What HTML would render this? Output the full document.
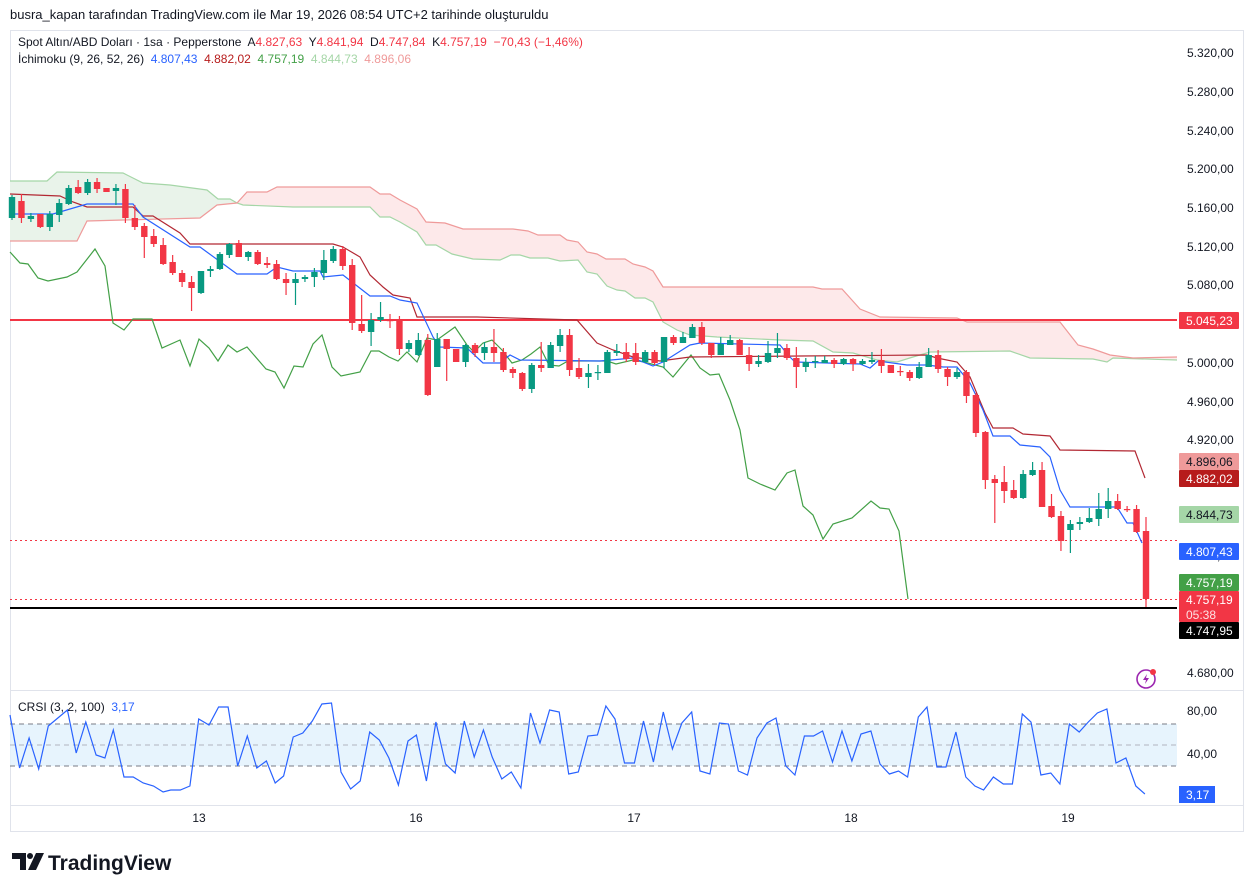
<!DOCTYPE html>
<html><head><meta charset="utf-8"><style>
html,body{margin:0;padding:0;background:#fff;width:1254px;height:893px;overflow:hidden}
svg{display:block}
text{font-family:"Liberation Sans",sans-serif;white-space:pre}
</style></head><body>
<svg id="s" width="1254" height="893" xmlns="http://www.w3.org/2000/svg" xml:space="preserve">
<rect x="10.5" y="30.5" width="1233" height="801" fill="#fff" stroke="#e0e3eb"/>
<line x1="10" y1="690.5" x2="1244" y2="690.5" stroke="#e0e3eb"/>
<line x1="10" y1="805.5" x2="1244" y2="805.5" stroke="#e0e3eb"/>
<g id="g"></g>
<text x="10" y="19" font-size="13" fill="#131722">busra_kapan tarafından TradingView.com ile Mar 19, 2026 08:54 UTC+2 tarihinde oluşturuldu</text>
<text x="18" y="46" font-size="12" fill="#131722">Spot Altın/ABD Doları · 1sa · Pepperstone  A<tspan fill="#F23645">4.827,63</tspan>  Y<tspan fill="#F23645">4.841,94</tspan>  D<tspan fill="#F23645">4.747,84</tspan>  K<tspan fill="#F23645">4.757,19  −70,43 (−1,46%)</tspan></text>
<text x="18" y="63" font-size="12" fill="#131722">İchimoku (9, 26, 52, 26)  <tspan fill="#2962FF">4.807,43</tspan>  <tspan fill="#B71C1C">4.882,02</tspan>  <tspan fill="#43A047">4.757,19</tspan>  <tspan fill="#A5D6A7">4.844,73</tspan>  <tspan fill="#EF9A9A">4.896,06</tspan></text>
<text x="18" y="711" font-size="12" fill="#131722">CRSI (3, 2, 100)  <tspan fill="#2962FF">3,17</tspan></text>
<g font-size="12" fill="#131722" text-anchor="middle">
<text x="199" y="822">13</text><text x="416" y="822">16</text><text x="634" y="822">17</text><text x="851" y="822">18</text><text x="1068" y="822">19</text>
</g>
<g transform="translate(12,853)"><path d="M0 0h14v17h-6v-11h-8z" fill="#131722"/><circle cx="18" cy="3" r="3" fill="#131722"/><path d="M24 0h8l-8 17h-8z" fill="#131722"/></g>
<text x="48" y="870" font-size="21" font-weight="bold" fill="#131722">TradingView</text>
<g transform="translate(1146,679)"><circle r="9" fill="none" stroke="#9c27b0" stroke-width="1.6"/><path d="M1 -5 L-3 1 L0 1 L-1 5 L3 -1 L0 -1 Z" fill="#9c27b0"/><circle cx="7" cy="-7" r="3" fill="#F23645"/></g>
</svg>
<script>
var g=document.getElementById('g'),h='';
function pl(p,c,w,extra){return '<polyline fill="none" stroke="'+c+'" stroke-width="'+(w||1)+'" '+(extra||'')+' points="'+p.map(function(a){return a[0]+','+a[1]}).join(' ')+'"/>';}
var A=[[10,181],[47,181],[57,172],[123,173],[143,183],[170,185],[207,190],[218,199],[230,199],[237,203],[243,205],[293,207],[370,207],[380,217],[390,217],[400,222],[417,232],[426,245],[436,245],[452,254],[473,259],[500,260],[511,255],[520,255],[530,258],[548,258],[560,261],[578,260],[587,272],[597,274],[607,286],[617,290],[625,291],[635,298],[645,298],[653,302],[663,322],[677,330],[690,335],[717,337],[780,340],[813,341],[833,352],[853,353],[877,360],[897,362],[913,357],[930,352],[1010,351],[1030,358],[1093,359],[1107,362],[1113,358],[1177,360]];
var B=[[10,241],[77,241],[87,221],[200,218],[217,205],[237,203],[247,192],[267,192],[277,187],[370,187],[380,194],[390,194],[400,200],[417,209],[426,222],[445,223],[463,229],[513,229],[528,231],[538,235],[560,235],[567,240],[578,242],[587,252],[597,254],[606,259],[625,259],[633,264],[645,267],[653,271],[663,287],[813,287],[822,289],[842,289],[860,309],[880,317],[957,318],[967,322],[1060,322],[1078,345],[1093,349],[1110,355],[1133,358],[1177,357]];
function poly(p,f){return '<polygon fill="'+f+'" points="'+p.map(function(a){return a[0]+','+a[1]}).join(' ')+'"/>';}
var gA=A.filter(function(a){return a[0]<=237}),gB=B.filter(function(a){return a[0]<=237}).reverse();
h+=poly(gA.concat(gB),'#e9f3ea');
var rB=B.filter(function(a){return a[0]>=237}),rA=A.filter(function(a){return a[0]>=237}).reverse();
h+=poly(rB.concat(rA),'#fde9ea');
h+=pl(A,'#a5d6a7',1.2)+pl(B,'#ef9a9a',1.2);
h+='<line x1="10" y1="320" x2="1177" y2="320" stroke="#F23645" stroke-width="2"/>';
h+='<line x1="10" y1="540.5" x2="1177" y2="540.5" stroke="#F23645" stroke-width="1" stroke-dasharray="2,3"/>';
h+='<line x1="10" y1="599.5" x2="1177" y2="599.5" stroke="#F23645" stroke-width="1" stroke-dasharray="2,3"/>';
h+='<line x1="10" y1="608" x2="1177" y2="608" stroke="#000" stroke-width="2"/>';
var LAG=[[10,252],[20,263],[28,264],[38,278],[48,281],[67,277],[77,272],[95,249],[105,266],[113,323],[124,330],[133,319],[152,319],[162,348],[180,340],[190,366],[199,339],[209,348],[218,361],[228,345],[237,352],[247,347],[266,369],[275,372],[284,388],[294,366],[303,367],[313,344],[322,335],[332,367],[341,376],[360,372],[371,351],[379,351],[389,357],[398,361],[407,352],[417,362],[427,338],[437,340],[455,327],[467,345],[474,352],[483,343],[492,340],[502,350],[512,363],[522,360],[531,354],[540,347],[549,365],[559,366],[568,361],[578,361],[607,361],[616,364],[633,360],[644,362],[663,367],[673,377],[691,355],[700,368],[710,375],[719,374],[730,400],[740,430],[748,478],[760,484],[775,490],[787,473],[795,470],[803,506],[813,515],[823,539],[833,524],[852,518],[871,501],[880,508],[889,509],[899,531],[908,599]];
h+=pl(LAG,'#43A047',1.2);
var BASE=[[10,194],[60,196],[73,202],[87,207],[133,207],[143,216],[153,216],[180,233],[190,244],[333,244],[343,247],[360,257],[370,275],[383,287],[393,295],[410,298],[417,317],[477,317],[577,320],[597,343],[613,350],[633,357],[660,361],[690,357],[800,356],[927,355],[937,358],[957,362],[970,377],[985,413],[993,428],[1013,428],[1023,434],[1050,436],[1060,450],[1135,451],[1145,478]];
var CONV=[[10,214],[53,214],[87,204],[133,204],[143,217],[190,247],[200,247],[237,274],[267,274],[277,267],[293,271],[320,271],[323,277],[343,275],[370,296],[390,296],[400,300],[417,303],[433,337],[440,347],[467,348],[483,363],[500,363],[510,355],[520,360],[600,361],[633,358],[653,366],[663,362],[690,345],[700,343],[780,345],[788,355],[795,362],[860,364],[870,368],[878,361],[907,365],[927,365],[943,367],[957,367],[970,383],[983,410],[993,436],[1010,436],[1020,445],[1040,447],[1050,457],[1060,490],[1070,507],[1117,507],[1127,523],[1133,523],[1142,543]];
h+=pl(BASE,'#B22833',1.2)+pl(CONV,'#2962FF',1.2);
var C=[
['g',197,218,195,220],['r',201,218,194,223],['g',216,219,213,222],['r',214,227,214,228],['g',214,227,211,231],['g',203,215,199,222],['g',188,204,185,205],['r',187,193,180,194],['g',182,193,179,195],['r',182,189,178,193],
['r',188,192,188,192],['g',188,191,184,205],['r',189,218,184,223],['r',218,227,205,230],['r',226,237,223,258],['r',236,244,229,247],['r',245,264,238,265],['r',262,273,255,275],['r',273,282,270,287],['r',282,288,276,311],
['g',271,293,271,294],['g',269,271,266,277],['g',254,269,252,270],['g',244,255,243,258],['r',243,257,240,257],['g',252,257,251,261],['r',252,264,250,265],['r',263,265,257,268],['r',264,279,260,280],['r',279,283,273,295],
['g',279,283,273,305],['g',277,279,275,282],['g',272,277,268,287],['g',260,273,250,280],['g',249,261,246,263],['r',249,266,246,270],['r',265,323,259,330],['r',324,331,295,333],['g',320,332,313,346],['g',317,320,302,322],
['r',320,321,314,328],['r',320,349,316,355],['g',343,349,340,352],['g',340,355,333,356],['r',340,395,334,396],['g',339,367,333,367],['r',339,349,339,381],['r',349,362,349,362],['g',345,362,344,367],['r',345,353,343,357],
['g',347,353,342,360],['r',347,353,329,362],['r',352,370,348,372],['r',369,373,367,378],['r',373,389,372,391],['g',365,389,363,393],['r',365,368,342,372],['g',345,368,342,368],['g',335,346,329,352],['r',335,370,329,376],
['r',368,377,358,379],['g',373,377,364,388],['g',372,373,365,380],['g',352,373,350,373],['g',351,353,344,356],['r',352,359,343,362],['r',353,362,343,365],['g',352,362,350,363],['r',352,363,350,365],['g',337,362,337,368],
['r',337,343,335,345],['g',337,343,332,343],['g',327,338,324,338],['r',327,343,322,345],['r',343,355,343,358],['g',344,355,337,355],['g',340,345,335,345],['r',340,355,339,355],['r',355,364,347,371],['g',361,364,355,367],
['g',353,362,341,363],['g',348,353,333,358],['r',348,358,344,360],['r',358,367,347,388],['g',362,367,358,372],['g',361,362,356,368],['g',360,363,356,363],['r',360,364,358,368],['g',359,364,358,365],['r',359,364,358,371],
['g',361,364,359,365],['g',360,362,352,364],['r',360,366,349,373],['r',365,373,365,373],['r',371,372,366,376],['r',372,378,370,381],['g',367,378,362,379],['g',355,367,348,367],['r',355,369,350,373],['r',369,377,367,386],
['g',372,377,368,379],['r',372,396,370,403],['r',395,433,393,437],['r',432,480,431,489],['r',479,483,475,523],['r',482,491,466,503],['r',490,498,480,499],['g',474,498,470,499],['g',470,475,462,476],['r',470,507,462,507],
['r',506,517,494,518],['r',516,541,511,551],['g',524,530,520,553],['g',522,524,517,530],['g',518,522,508,523],['g',509,519,493,526],['g',501,509,488,518],['r',501,509,494,510],['r',509,510,506,512],['r',509,532,505,533],
['r',531,599,517,607]];
C.forEach(function(c,i){var x=12+i*9.45,col=c[0]=='g'?'#089981':'#F23645';var bh=Math.max(c[2]-c[1],1.2);
h+='<line x1="'+x+'" y1="'+c[3]+'" x2="'+x+'" y2="'+c[4]+'" stroke="'+col+'" stroke-width="1.2"/>';
h+='<rect x="'+(x-3.2)+'" y="'+c[1]+'" width="6.4" height="'+bh+'" fill="'+col+'"/>';});
h+='<rect x="10" y="724" width="1167" height="42" fill="#e3f2fd" opacity="0.85"/>';
[724,766].forEach(function(y){h+='<line x1="10" y1="'+y+'" x2="1177" y2="'+y+'" stroke="#787b86" stroke-dasharray="5,4"/>';});
h+='<line x1="10" y1="745" x2="1177" y2="745" stroke="#b2b5be" stroke-dasharray="5,4"/>';
var z5=[[0,715],[25,768],[50,738],[75,769],[100,726],[150,710],[173,753],[198,722],[225,755],[248,758],[270,730],[298,777],[322,777],[348,783],[375,786],[400,792],[420,790],[445,790],[470,786],[493,719],[520,725],[545,707],[570,707],[595,766],[620,736],[645,768],[670,761],[693,783],[715,776],[740,737],[765,733],[790,721],[815,704],[840,703],[865,772],[890,789],[915,781],[940,732],[965,740],[990,758],[1015,785],[1040,741],[1062,735],[1088,781],[1113,722],[1138,764],[1163,773],[1187,721],[1213,757],[1237,730],[1260,757],[1285,779],[1310,772],[1335,788],[1360,713],[1385,743],[1410,710],[1435,712],[1460,774],[1485,772],[1510,736],[1535,735]];
var z6=[[15,706],[38,719],[62,763],[87,763],[110,721],[135,762],[160,712],[183,749],[207,723],[232,712],[253,771],[278,774],[302,723],[325,724],[350,771],[373,775],[397,738],[422,723],[445,718],[470,766],[493,775],[517,736],[540,736],[563,731],[588,762],[612,731],[637,761],[660,734],[685,731],[708,764],[732,774],[755,771],[778,777],[805,717],[827,707],[852,767],[875,767],[900,732],[925,777],[948,786],[970,790],[995,777],[1020,784],[1043,784],[1068,714],[1090,722],[1115,775],[1140,773],[1163,784],[1187,724],[1212,732],[1235,722],[1258,713],[1282,709],[1305,763],[1330,758],[1355,786],[1378,794]];
var CR=z5.map(function(p){return [(10+p[0]/2.613).toFixed(1),p[1]]}).concat(z6.map(function(p){return [(600+p[0]/2.529).toFixed(1),p[1]]}));
h+=pl(CR,'#2962FF',1.2);
var L=[[5320,53],[5280,92],[5240,131],[5200,169],[5160,208],[5120,247],[5080,285],[5000,363],[4960,402],[4920,440],[4800,556],[4680,673]];
L.forEach(function(l){var s=String(l[0]);h+='<text x="1187" y="'+(l[1]+4)+'" font-size="12" fill="#131722">'+s[0]+'.'+s.slice(1)+',00</text>';});
h+='<text x="1187" y="715" font-size="12" fill="#131722">80,00</text><text x="1187" y="758" font-size="12" fill="#131722">40,00</text>';
function box(y,hh,bg,fg,t,t2){h+='<rect x="1179" y="'+y+'" width="60" height="'+hh+'" rx="1" fill="'+bg+'"/>';h+='<text x="1186" y="'+(y+13)+'" font-size="12" fill="'+fg+'">'+t+'</text>';if(t2)h+='<text x="1186" y="'+(y+28)+'" font-size="12" fill="'+fg+'" opacity="0.85">'+t2+'</text>';}
box(312,17,'#F23645','#fff','5.045,23');
box(453,17,'#EF9A9A','#131722','4.896,06');
box(470,17,'#B71C1C','#fff','4.882,02');
box(506,17,'#A5D6A7','#131722','4.844,73');
box(543,17,'#2962FF','#fff','4.807,43');
box(574,17,'#43A047','#fff','4.757,19');
box(591,31,'#F23645','#fff','4.757,19','05:38');
box(622,17,'#000','#fff','4.747,95');
h+='<rect x="1179" y="786" width="36" height="17" fill="#2962FF"/><text x="1186" y="799" font-size="12" fill="#fff">3,17</text>';
g.innerHTML=h;
</script>
</body></html>
